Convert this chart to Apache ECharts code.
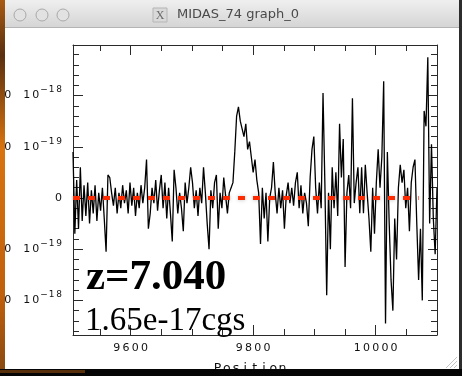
<!DOCTYPE html>
<html><head><meta charset="utf-8">
<script src="https://cdn.jsdelivr.net/npm/echarts@6/dist/echarts.min.js"></script>
<style>html,body{margin:0;padding:0;background:#fff;}#c{width:462px;height:376px;}</style>
</head><body><div id="c"></div>
<script>
// ---- data (flux on the plot's stretched, log-like y scale: ±1 = 1e-19, ±2 = 1e-18) ----
const windowTitle = 'MIDAS_74 graph_0';
const xAxisName = 'Position';
const redshiftText = 'z=7.040';
const fluxText = '1.65e-17cgs';
const waveStart = 9506, waveStep = 3;
const scaledFlux = [
0.9,-0.7,0.35,-0.6,0.6,-0.45,0.25,-0.35,0.3,-0.5,
0.15,-0.3,0.25,-0.45,0.1,-0.25,0.2,-0.4,-1.05,0.45,
0.4,0.1,-0.15,0.2,-0.3,0.1,-0.2,0.25,-0.1,0.15,
-0.3,0.3,-0.15,0.2,-0.35,0.1,-0.2,0.25,-0.1,0.2,
0.75,-0.6,-0.3,0.2,-0.1,0.35,-0.25,0.15,0.45,-0.2,
0.3,-0.4,0.2,-0.3,-0.85,0.55,0.2,-0.3,0.1,-0.2,
-0.65,0.3,-0.1,0.2,0.6,0.3,-0.2,0.15,-0.35,0.2,
-0.1,0.6,0.1,-0.5,-1.0,0.15,-0.2,0.3,0.45,-0.6,
0.1,-0.2,0.4,0.05,-0.3,0.1,0.2,0.3,0.9,1.6,
1.78,1.5,1.35,1.2,1.45,0.95,1.1,0.8,0.5,0.75,
0.35,0.1,-0.9,0.2,-0.4,0.1,-0.85,0.0,0.2,0.7,
0.1,-0.3,0.2,-0.2,0.15,-0.6,0.05,0.3,-0.1,0.2,
-0.15,0.3,0.5,-0.2,0.25,-0.3,0.1,-0.1,-0.55,0.4,
0.95,1.2,0.2,-0.3,0.3,-0.2,2.05,0.3,-1.9,0.1,
-1.0,0.6,-0.2,0.5,-0.35,1.45,0.4,1.15,-1.35,0.1,
0.45,-0.2,1.95,-0.1,0.3,0.6,-0.3,0.6,-0.3,0.65,
0.1,-0.4,-1.05,0.2,-0.7,0.3,0.95,0.2,0.8,2.28,
-2.45,0.9,-0.5,-1.6,-2.2,-0.4,-1.2,0.2,0.65,0.3,
0.55,-0.2,0.2,-0.65,0.3,0.6,0.75,-0.5,-1.6,-0.6,
-2.0,1.7,1.4,2.75,-0.5,1.05,-0.4,-1.1,0.2
];
const wavelength = scaledFlux.map((_, i) => waveStart + i * waveStep);
const zeroLineX = [9506, 10070];
const zeroLineY = [0, 0];
const xMin = 9506, xMax = 10100;
const yMin = -2.676, yMax = 2.988;
const xMajorTicks = [9600, 9800, 10000];
const xMinorTicks = [9550, 9600, 9650, 9700, 9750, 9800, 9850, 9900, 9950, 10000, 10050];
const yMajorTicks = [-2, -1, 0, 1, 2];
const yMinorTicks = [-2.6,-2.4,-2.2,-2,-1.8,-1.6,-1.4,-1.2,-1,-0.8,-0.6,-0.4,-0.2,0,0.2,0.4,0.6,0.8,1,1.2,1.4,1.6,1.8,2,2.2,2.4,2.6,2.8];
const yLabelBase = {'2': '0 10', '1': '0 10', '0': '0', '-1': '0 10', '-2': '0 10'};
const yLabelExp  = {'2': '−18', '1': '−19', '0': '', '-1': '−19', '-2': '−18'};

// ---- rendering ----
const FONT = 'DejaVu Sans';
const rich = {
  c: {fontFamily: FONT, fontSize: 11, width: 9, align: 'center', color: '#111'},
  x: {fontFamily: FONT, fontSize: 11, width: 9.2, align: 'center', color: '#111'},
  n: {fontFamily: FONT, fontSize: 12.5, width: 9.3, align: 'center', color: '#111'},
  g: {fontFamily: FONT, fontSize: 11, width: 10, color: '#111'},
  t: {fontFamily: FONT, fontSize: 9, width: 7.6, align: 'center', color: '#111', padding: [0, 0, 11, 0]}
};
function spaced(str, tok) {
  return str.split('').map(ch => ch === ' ' ? '{g| }' : '{' + tok + '|' + ch + '}').join('');
}
function yLabel(v) {
  const k = String(Math.round(v));
  return spaced(yLabelBase[k], 'c') + (yLabelExp[k] ? spaced(yLabelExp[k], 't') : '');
}
const lineStyle = {color: '#2a2a2a', width: 1};
function xAx(position, ticks, len, withLine, withLabel) {
  return {
    type: 'value', position, min: xMin, max: xMax,
    axisLine: {show: withLine, onZero: false, lineStyle},
    axisTick: {show: true, inside: true, length: len, customValues: ticks, lineStyle},
    axisLabel: withLabel ? {show: true, customValues: xMajorTicks, margin: 8,
      formatter: v => spaced(String(v), 'x'), rich} : {show: false},
    splitLine: {show: false},
    name: withLabel ? spaced(xAxisName, 'n') : '',
    nameLocation: 'middle', nameGap: 27,
    nameTextStyle: {rich, padding: [0, 10, 0, 0]}
  };
}
function yAx(position, ticks, len, withLine, withLabel) {
  return {
    type: 'value', position, min: yMin, max: yMax,
    axisLine: {show: withLine, onZero: false, lineStyle},
    axisTick: {show: true, inside: true, length: len, customValues: ticks, lineStyle},
    axisLabel: withLabel ? {show: true, customValues: yMajorTicks, margin: 10,
      formatter: yLabel, rich} : {show: false},
    splitLine: {show: false}
  };
}

const chart = echarts.init(document.getElementById('c'), null, {renderer: 'canvas'});
chart.setOption({
  animation: false,
  backgroundColor: '#ffffff',
  grid: {left: 73, right: 25, top: 45, bottom: 41, containLabel: false, outerBoundsMode: 'none'},
  xAxis: [
    xAx('bottom', xMajorTicks, 10, true, true),
    xAx('bottom', xMinorTicks, 6, false, false),
    xAx('top', xMajorTicks, 10, true, false),
    xAx('top', xMinorTicks, 6, false, false)
  ],
  yAxis: [
    yAx('left', yMajorTicks, 10, true, true),
    yAx('left', yMinorTicks, 6, false, false),
    yAx('right', yMajorTicks, 9, true, false),
    yAx('right', yMinorTicks, 6, false, false)
  ],
  series: [
    {
      type: 'line', xAxisIndex: 0, yAxisIndex: 0, symbol: 'none', clip: true,
      data: wavelength.map((w, i) => [w, scaledFlux[i]]),
      lineStyle: {color: '#000', width: 1.3}, z: 2
    },
    {
      type: 'line', xAxisIndex: 0, yAxisIndex: 0, symbol: 'none',
      data: zeroLineX.map((w, i) => [w, zeroLineY[i]]),
      lineStyle: {color: '#ff2a00', width: 4, type: [7, 8], cap: 'butt',
        shadowBlur: 4, shadowColor: 'rgba(0,0,0,0.25)'}, z: 3
    }
  ],
  graphic: [
    // window title bar
    {type: 'rect', shape: {x: 0, y: 0, width: 462, height: 28, r: [5, 5, 0, 0]},
     style: {fill: new echarts.graphic.LinearGradient(0, 0, 0, 1, [
       {offset: 0, color: '#efefef'}, {offset: 1, color: '#d4d4d4'}])}, z: 50},
    {type: 'line', shape: {x1: 0, y1: 27.5, x2: 462, y2: 27.5}, style: {stroke: '#b4b4b4', lineWidth: 1}, z: 51},
    {type: 'circle', shape: {cx: 20, cy: 15, r: 6}, style: {fill: '#e2e2e2', stroke: '#a9a9a9', lineWidth: 1}, z: 51},
    {type: 'circle', shape: {cx: 42, cy: 15, r: 6}, style: {fill: '#e2e2e2', stroke: '#a9a9a9', lineWidth: 1}, z: 51},
    {type: 'circle', shape: {cx: 63, cy: 15, r: 6}, style: {fill: '#e2e2e2', stroke: '#a9a9a9', lineWidth: 1}, z: 51},
    {type: 'rect', shape: {x: 153, y: 8, width: 14, height: 14}, style: {fill: '#d9d9d9', stroke: '#b5b5b5', lineWidth: 1}, z: 51},
    {type: 'text', x: 160, y: 15.5, style: {text: 'X', font: '12px "Liberation Serif"', fill: '#6a6a6a', align: 'center', verticalAlign: 'middle'}, z: 52},
    {type: 'text', x: 177, y: 15, style: {text: windowTitle, font: '13px "DejaVu Sans"', fill: '#4a4a4a', align: 'left', verticalAlign: 'middle'}, z: 52},
    // annotations
    {type: 'text', x: 86, y: 278, style: {text: redshiftText, font: 'bold 43px "Liberation Serif"', fill: '#000', align: 'left', verticalAlign: 'middle'}, z: 20},
    {type: 'text', x: 85, y: 321, style: {text: fluxText, font: '33px "Liberation Serif"', fill: '#000', align: 'left', verticalAlign: 'middle'}, z: 20},
    // desktop edges
    {type: 'rect', shape: {x: 0, y: 0, width: 5, height: 370},
     style: {fill: new echarts.graphic.LinearGradient(0, 0, 0, 1, [
       {offset: 0, color: '#a95a12'}, {offset: 0.15, color: '#5a3010'}, {offset: 0.4, color: '#d8730f'},
       {offset: 0.8, color: '#c0600c'}, {offset: 1, color: '#8a4a10'}])}, z: 100},
    {type: 'rect', shape: {x: 459, y: 0, width: 3, height: 376}, style: {fill: '#2c2c2c'}, z: 100},
    {type: 'rect', shape: {x: 0, y: 369, width: 462, height: 7}, style: {fill: '#050505'}, z: 100},
    {type: 'rect', shape: {x: 0, y: 370, width: 85, height: 3}, style: {fill: 'rgba(190,100,20,0.45)'}, z: 101},
    // resize grip
    {type: 'line', shape: {x1: 457, y1: 357, x2: 446, y2: 368}, style: {stroke: '#c4c4c4', lineWidth: 1}, z: 60},
    {type: 'line', shape: {x1: 457, y1: 361, x2: 450, y2: 368}, style: {stroke: '#c4c4c4', lineWidth: 1}, z: 60},
    {type: 'line', shape: {x1: 457, y1: 365, x2: 454, y2: 368}, style: {stroke: '#c4c4c4', lineWidth: 1}, z: 60}
  ]
});
</script></body></html>
